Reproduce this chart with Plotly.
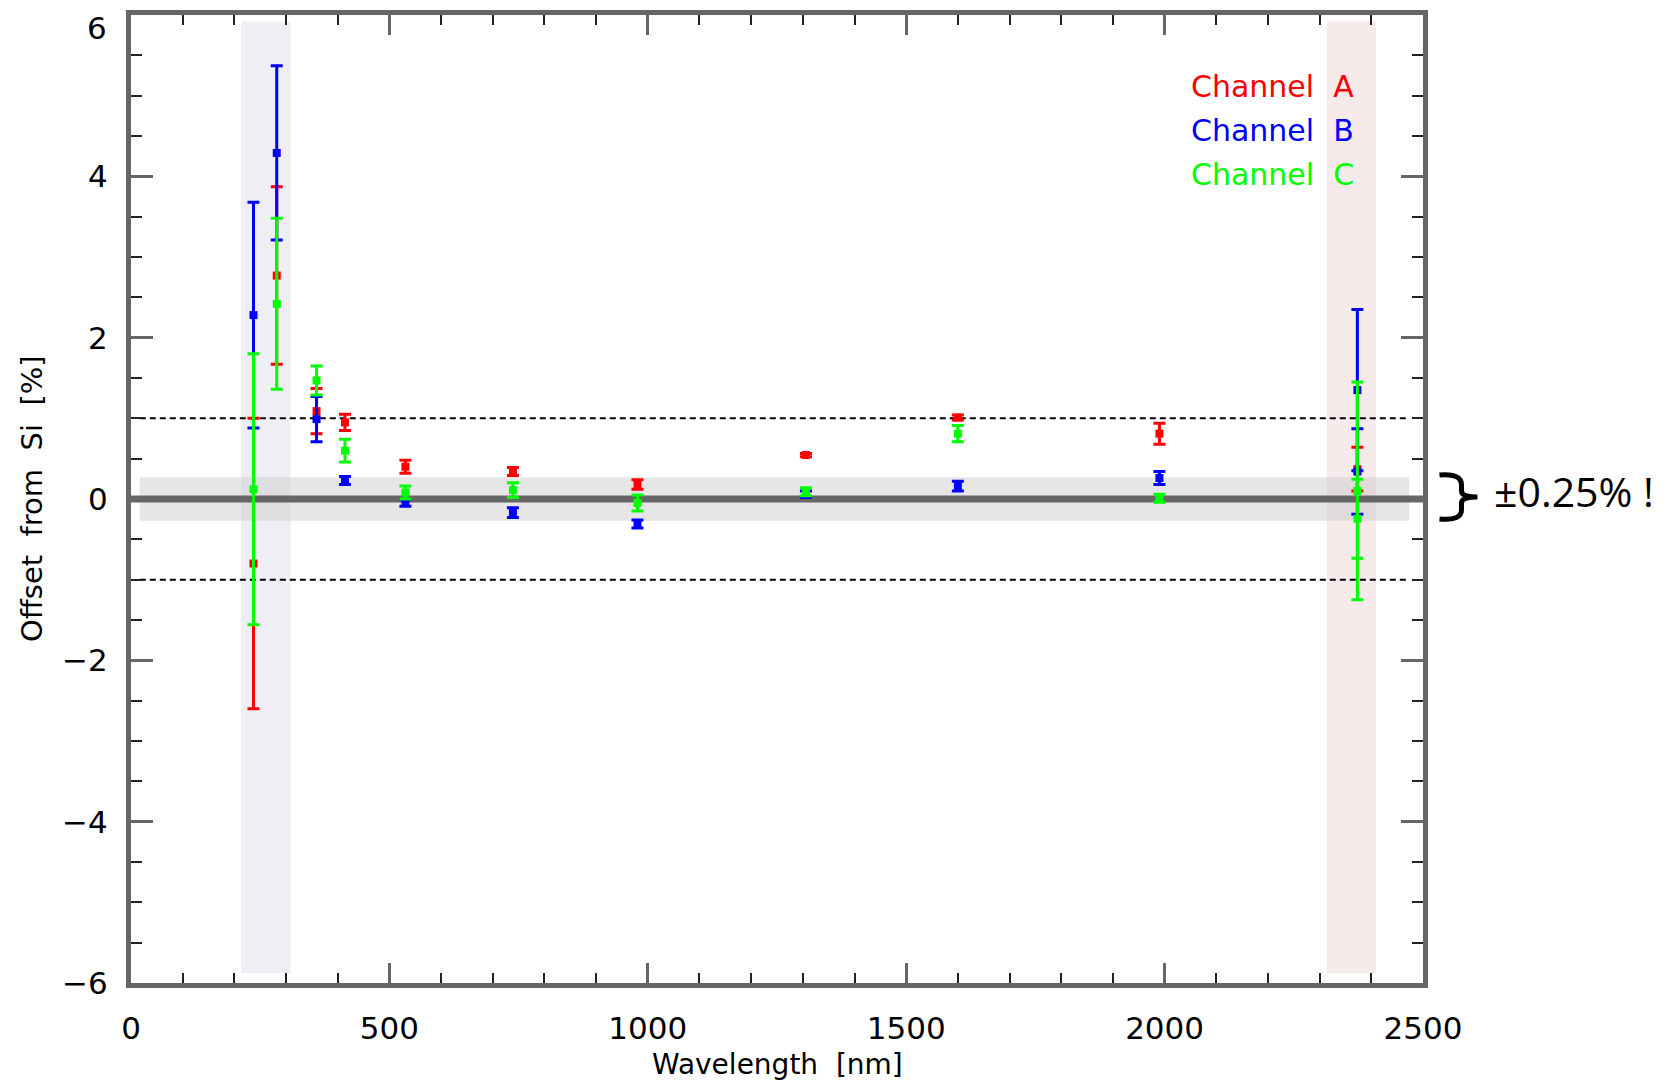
import plotly.graph_objects as go

# ---------------- data ----------------
wavelength = [237, 282, 359, 414, 531, 739, 980, 1306, 1600, 1990, 2373]

chan_a_val = [-0.80, 2.77, 1.09, 0.95, 0.40, 0.34, 0.18, 0.545, 1.01, 0.81, 0.37]
chan_a_err = [1.80, 1.10, 0.28, 0.10, 0.08, 0.05, 0.06, 0.02, 0.03, 0.13, 0.27]

chan_b_val = [2.28, 4.29, 0.99, 0.23, -0.05, -0.17, -0.31, 0.06, 0.16, 0.26, 1.35]
chan_b_err = [1.40, 1.08, 0.28, 0.05, 0.04, 0.06, 0.05, 0.04, 0.06, 0.08, 1.00]

chan_c_val = [0.12, 2.42, 1.47, 0.60, 0.08, 0.11, -0.05, 0.09, 0.81, 0.01, 0.10]
chan_c_err = [1.68, 1.06, 0.18, 0.14, 0.08, 0.09, 0.10, 0.05, 0.10, 0.05, 1.35]

# second measurement at the longest wavelength
extra_wl = [2373]
extra_b_val = [0.34]
extra_b_err = [0.53]
extra_c_val = [-0.245]
extra_c_err = [0.49]

channel_names = ["Channel  A", "Channel  B", "Channel  C"]
channel_colors = ["#ff0000", "#0000ff", "#00ff00"]

uv_band = [213, 309]
swir_band = [2314, 2409]
band_y = [-5.88, 5.92]
tolerance_band = 0.27
dashed_level = 1.0

x_range = [0, 2500]
y_range = [-6, 6]
x_ticks = [0, 500, 1000, 1500, 2000, 2500]
y_ticks = [-6, -4, -2, 0, 2, 4, 6]
y_ticktext = ["\u22126", "\u22124", "\u22122", "0", "2", "4", ""]  # top "6" drawn separately
top_y_label = "6"

# ---------------- figure ----------------
W, H = 1672, 1085
L, R, T, B = 131, 248.5, 15, 102
pw, ph = W - L - R, H - T - B

def px_to_paper(px, py):
    return (px - L) / pw, (H - B - py) / ph

fig = go.Figure()

def add_series(x, y, e, color):
    fig.add_trace(go.Scatter(
        x=x, y=y, mode="markers",
        marker=dict(symbol="square", size=8, color=color, line=dict(width=0)),
        error_y=dict(type="data", array=e, visible=True, color=color,
                     thickness=3, width=6),
        showlegend=False, hoverinfo="x+y"))

add_series(wavelength, chan_a_val, chan_a_err, channel_colors[0])
add_series(wavelength, chan_b_val, chan_b_err, channel_colors[1])
add_series(extra_wl, extra_b_val, extra_b_err, channel_colors[1])
add_series(wavelength, chan_c_val, chan_c_err, channel_colors[2])
add_series(extra_wl, extra_c_val, extra_c_err, channel_colors[2])

shapes = []
# shaded wavelength regions
shapes.append(dict(type="rect", xref="x", yref="y", x0=uv_band[0], x1=uv_band[1],
                   y0=band_y[0], y1=band_y[1], fillcolor="#f0eef5",
                   line=dict(width=0), layer="below"))
shapes.append(dict(type="rect", xref="x", yref="y", x0=swir_band[0], x1=swir_band[1],
                   y0=band_y[0], y1=band_y[1], fillcolor="#f6eaea",
                   line=dict(width=0), layer="below"))
# grey tolerance band
shapes.append(dict(type="rect", xref="x", yref="y", x0=17, x1=2473,
                   y0=-tolerance_band, y1=tolerance_band, fillcolor="rgba(200,200,200,0.45)",
                   line=dict(width=0), layer="below"))
# zero line
shapes.append(dict(type="line", xref="x", yref="y", x0=0, x1=2500, y0=0, y1=0,
                   line=dict(color="#666666", width=7), layer="below"))
# dashed +-1 lines
for lv in (dashed_level, -dashed_level):
    shapes.append(dict(type="line", xref="x", yref="y", x0=17, x1=2470, y0=lv, y1=lv,
                       line=dict(color="black", width=2, dash="6px,4px"), layer="below"))

# curly brace outside the plot
brace_px = [
    ("M", 1440, 475), ("Q", 1462, 473, 1462, 485), ("L", 1462, 491),
    ("Q", 1462, 497, 1478, 497), ("Q", 1462, 497, 1462, 503), ("L", 1462, 510),
    ("Q", 1462, 521, 1440, 519)]
path = ""
for seg in brace_px:
    cmd = seg[0]
    pts = seg[1:]
    s = cmd
    for i in range(0, len(pts), 2):
        xp, yp = px_to_paper(pts[i], pts[i + 1])
        s += f"{xp:.5f},{yp:.5f} "
    path += s
shapes.append(dict(type="path", xref="paper", yref="paper", path=path,
                   line=dict(color="black", width=5)))

annotations = []
# legend texts
for i, (name, col) in enumerate(zip(channel_names, channel_colors)):
    annotations.append(dict(
        xref="paper", yref="paper", x=(1356 - L) / pw, y=(H - B - (87 + 43.5 * i)) / ph,
        text=name, showarrow=False, xanchor="right", yanchor="middle",
        font=dict(family="DejaVu Sans", size=30, color=col)))
# top y tick label (kept inside the page, as in the reference)
annotations.append(dict(xref="paper", yref="paper", x=0, xshift=-22,
                        y=px_to_paper(0, 28)[1], text=top_y_label, showarrow=False,
                        xanchor="right", yanchor="middle",
                        font=dict(family="DejaVu Sans", size=31, color="black")))
# axis titles
annotations.append(dict(xref="paper", yref="paper", x=0.5, y=0, yshift=-(1064 - (H - B)),
                        text="Wavelength  [nm]", showarrow=False, xanchor="center",
                        yanchor="middle", font=dict(family="DejaVu Sans", size=28, color="black")))
annotations.append(dict(xref="paper", yref="paper", x=0, y=px_to_paper(0, 499)[1],
                        xshift=-(L - 32), text="Offset  from  Si  [%]", showarrow=False,
                        textangle=-90, xanchor="center", yanchor="middle",
                        font=dict(family="DejaVu Sans", size=29, color="black")))
# +-0.25% note
annotations.append(dict(xref="paper", yref="paper", x=(1493 - L) / pw,
                        y=px_to_paper(0, 491)[1], text="±0.25% !", showarrow=False,
                        xanchor="left", yanchor="middle",
                        font=dict(family="Open Sans", size=41, color="black")))

axis_common = dict(
    showgrid=False, zeroline=False, showline=True, linecolor="#666666", linewidth=5,
    mirror="ticks", ticks="inside", tickcolor="#666666", tickwidth=3,
    tickfont=dict(family="DejaVu Sans", size=31, color="black"),
    ticklabeloverflow="allow", automargin=False,
)

fig.update_layout(
    width=W, height=H,
    margin=dict(l=L, r=R, t=T, b=B, autoexpand=False),
    paper_bgcolor="white", plot_bgcolor="white",
    shapes=shapes, annotations=annotations,
    xaxis=dict(range=x_range, tickvals=x_ticks, ticklen=20,
               minor=dict(dtick=100, ticklen=10, tickcolor="#222222", tickwidth=2, ticks="inside"),
               ticklabelstandoff=14, **axis_common),
    yaxis=dict(range=y_range, tickvals=y_ticks, ticktext=y_ticktext, ticklen=22,
               minor=dict(dtick=0.5, ticklen=11, tickcolor="#222222", tickwidth=2, ticks="inside"),
               ticklabelstandoff=12, **axis_common),
)

fig.write_html("out.html")
